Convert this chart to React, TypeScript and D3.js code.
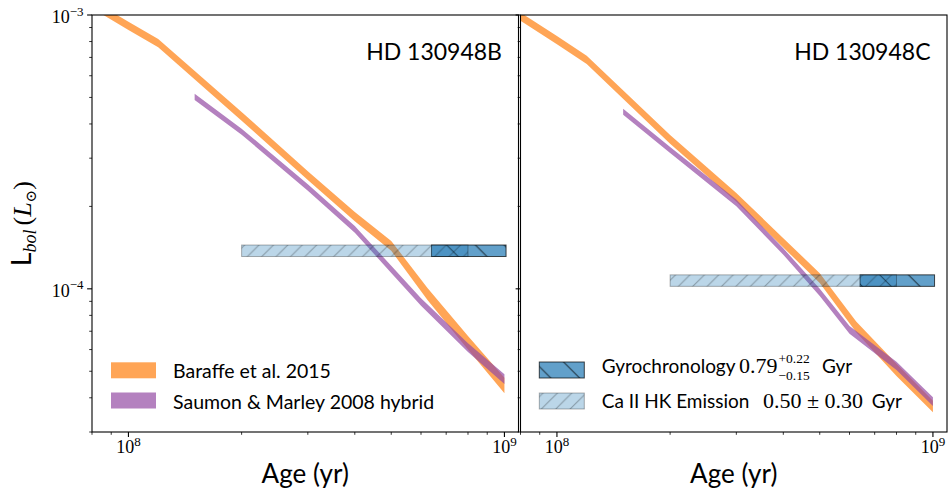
import React from 'react';
import * as d3 from 'd3';

// ---------------- data ----------------
const xDomain = [8e7, 1.09e9];
const yDomain = [3e-5, 1e-3];

const panelTitles = ['HD 130948B', 'HD 130948C'];

// Baraffe et al. 2015 tracks (age in Gyr, log10 Lbol/Lsun band edges)
const baraffeAgesGyr = [0.08, 0.1, 0.12, 0.2, 0.3, 0.4, 0.5, 0.625, 0.8, 1.0];
const baraffeB_logL_hi = [-2.945, -3.025, -3.088, -3.354, -3.571, -3.719, -3.825, -3.998, -4.172, -4.325];
const baraffeB_logL_lo = [-2.975, -3.055, -3.118, -3.386, -3.603, -3.753, -3.861, -4.042, -4.222, -4.381];
const baraffeC_logL_hi = [-2.991, -3.077, -3.149, -3.438, -3.65, -3.815, -3.943, -4.119, -4.274, -4.409];
const baraffeC_logL_lo = [-3.021, -3.107, -3.179, -3.47, -3.682, -3.849, -3.979, -4.159, -4.318, -4.451];

// Saumon & Marley 2008 hybrid tracks
const saumonAgesGyr = [0.15, 0.2, 0.3, 0.4, 0.5, 0.6, 0.8, 1.0];
const saumonB_logL_hi = [-3.288, -3.415, -3.618, -3.771, -3.916, -4.034, -4.199, -4.312];
const saumonB_logL_lo = [-3.31, -3.437, -3.642, -3.795, -3.942, -4.062, -4.231, -4.348];
const saumonC_logL_hi = [-3.342, -3.482, -3.674, -3.852, -4.0, -4.136, -4.266, -4.396];
const saumonC_logL_lo = [-3.364, -3.504, -3.698, -3.876, -4.026, -4.164, -4.296, -4.428];

// measured luminosities (log10 range) of each object
const objB_logL = [-3.882, -3.84];
const objC_logL = [-3.991, -3.949];

// age estimates (Gyr)
const gyroAgeGyr = [0.64, 1.01];
const caHKAgeGyr = [0.2, 0.8];

const seriesLabels = ['Baraffe et al. 2015', 'Saumon & Marley 2008 hybrid'];

// ---------------- styles ----------------
const ORANGE = '#ff7f0e';
const PURPLE = '#944ca4';
const BLUE = '#1f77b4';
const SANS = 'Lato, "Open Sans", sans-serif';
const SERIF = '"Liberation Serif", "DejaVu Serif", serif';

const Y0 = 15;
const Y1 = 432;

type Band = { ages: number[]; hi: number[]; lo: number[] };

function isMajor(v: number) {
  const l = Math.log10(v);
  return Math.abs(l - Math.round(l)) < 1e-9;
}

function Panel(props: {
  idx: number;
  range: [number, number];
  title: string;
  baraffe: Band;
  saumon: Band;
  obj: number[];
}) {
  const { idx, range, title, baraffe, saumon, obj } = props;
  const x = d3.scaleLog().domain(xDomain).range(range);
  const y = d3.scaleLog().domain(yDomain).range([Y1, Y0]);

  const mkArea = (b: Band) => {
    const pts = b.ages.map((a, i) => ({ a: a * 1e9, hi: 10 ** b.hi[i], lo: 10 ** b.lo[i] }));
    return d3
      .area<{ a: number; hi: number; lo: number }>()
      .x((d) => x(d.a))
      .y0((d) => y(d.lo))
      .y1((d) => y(d.hi))(pts) as string;
  };

  const clipId = `clip${idx}`;
  const yTop = y(10 ** obj[1]);
  const yBot = y(10 ** obj[0]);

  const xt = x.ticks();
  const yt = y.ticks();
  const cx = (range[0] + range[1]) / 2;

  return (
    <g>
      <defs>
        <clipPath id={clipId}>
          <rect x={range[0]} y={Y0} width={range[1] - range[0]} height={Y1 - Y0} />
        </clipPath>
      </defs>
      <g clipPath={`url(#${clipId})`}>
        <path d={mkArea(baraffe)} fill={ORANGE} fillOpacity={0.7} />
        <path d={mkArea(saumon)} fill={PURPLE} fillOpacity={0.7} />
        {/* gyrochronology bar */}
        {(() => {
          const x0 = x(gyroAgeGyr[0] * 1e9);
          const x1 = x(gyroAgeGyr[1] * 1e9);
          return (
            <g>
              <rect x={x0} y={yTop} width={x1 - x0} height={yBot - yTop} fill={BLUE} fillOpacity={0.7} />
              <rect x={x0} y={yTop} width={x1 - x0} height={yBot - yTop} fill="url(#hatchBack)" opacity={0.7} />
              <rect x={x0} y={yTop} width={x1 - x0} height={yBot - yTop} fill="none" stroke="#000" strokeOpacity={0.7} strokeWidth={1} />
            </g>
          );
        })()}
        {/* Ca II HK bar */}
        {(() => {
          const x0 = x(caHKAgeGyr[0] * 1e9);
          const x1 = x(caHKAgeGyr[1] * 1e9);
          return (
            <g>
              <rect x={x0} y={yTop} width={x1 - x0} height={yBot - yTop} fill={BLUE} fillOpacity={0.3} />
              <rect x={x0} y={yTop} width={x1 - x0} height={yBot - yTop} fill="url(#hatchFwd)" opacity={0.3} />
              <rect x={x0} y={yTop} width={x1 - x0} height={yBot - yTop} fill="none" stroke="#000" strokeOpacity={0.3} strokeWidth={1} />
            </g>
          );
        })()}
      </g>

      {/* spines */}
      <rect x={range[0]} y={Y0} width={range[1] - range[0]} height={Y1 - Y0} fill="none" stroke="#000" strokeWidth={1.1} />

      {/* x ticks */}
      {xt.map((t, i) => {
        const major = isMajor(t);
        const px = x(t);
        return (
          <g key={'xt' + i}>
            <line x1={px} x2={px} y1={Y1} y2={Y1 + (major ? 4.9 : 2.8)} stroke="#000" strokeWidth={major ? 1.1 : 0.8} />
            {major && (
              <text x={px} y={453} textAnchor="middle" fontFamily={SERIF} fontSize={18} fill="#000">
                10
                <tspan fontSize={13} dy={-7}>
                  {Math.round(Math.log10(t))}
                </tspan>
              </text>
            )}
          </g>
        );
      })}

      {/* y ticks */}
      {yt.map((t, i) => {
        const major = isMajor(t);
        const py = y(t);
        return (
          <g key={'yt' + i}>
            <line x1={range[0]} x2={range[0] - (major ? 4.9 : 2.8)} y1={py} y2={py} stroke="#000" strokeWidth={major ? 1.1 : 0.8} />
            {major && idx === 0 && (
              <text x={83.5} y={py + 8} textAnchor="end" fontFamily={SERIF} fontSize={18} fill="#000">
                10
                <tspan fontSize={13} dy={-7.5}>
                  {'\u2212' + Math.abs(Math.round(Math.log10(t)))}
                </tspan>
              </text>
            )}
          </g>
        );
      })}

      {/* title */}
      <text x={range[1] - 16.5} y={60} textAnchor="end" fontFamily={SANS} fontSize={23} fill="#000">
        {title}
      </text>

      {/* x label */}
      <text x={cx} y={483} textAnchor="middle" fontFamily={SANS} fontSize={26} fill="#000">
        Age (yr)
      </text>
    </g>
  );
}

export default function App() {
  const panels = [
    {
      range: [92, 518.5] as [number, number],
      baraffe: { ages: baraffeAgesGyr, hi: baraffeB_logL_hi, lo: baraffeB_logL_lo },
      saumon: { ages: saumonAgesGyr, hi: saumonB_logL_hi, lo: saumonB_logL_lo },
      obj: objB_logL,
    },
    {
      range: [520.5, 947] as [number, number],
      baraffe: { ages: baraffeAgesGyr, hi: baraffeC_logL_hi, lo: baraffeC_logL_lo },
      saumon: { ages: saumonAgesGyr, hi: saumonC_logL_hi, lo: saumonC_logL_lo },
      obj: objC_logL,
    },
  ];

  const fw = 14.4;
  const bw = 28.8;

  return (
    <svg
      width={949}
      height={497}
      viewBox="0 0 949 497"
      style={{ position: 'absolute', left: 0, top: 0, background: '#fff' }}
    >
      <defs>
        <pattern id="hatchFwd" patternUnits="userSpaceOnUse" width={fw} height={fw}>
          <path
            d={`M0,${fw} L${fw},0 M${-fw / 2},${fw / 2} L${fw / 2},${-fw / 2} M${fw / 2},${fw * 1.5} L${fw * 1.5},${fw / 2}`}
            stroke="#000"
            strokeWidth={1}
          />
        </pattern>
        <pattern id="hatchBack" patternUnits="userSpaceOnUse" width={bw} height={bw}>
          <path
            d={`M0,0 L${bw},${bw} M${-bw / 2},${bw / 2} L${bw / 2},${bw * 1.5} M${bw / 2},${-bw / 2} L${bw * 1.5},${bw / 2}`}
            stroke="#000"
            strokeWidth={1}
          />
        </pattern>
      </defs>
      <rect x={0} y={0} width={949} height={497} fill="#fff" />

      {panels.map((p, i) => (
        <Panel key={i} idx={i} range={p.range} title={panelTitles[i]} baraffe={p.baraffe} saumon={p.saumon} obj={p.obj} />
      ))}

      {/* y label */}
      <g transform="translate(31,223.5) rotate(-90)">
        <text x={0} y={0} textAnchor="middle" fill="#000" fontSize={26}>
          <tspan fontFamily={SANS}>L</tspan>
          <tspan fontFamily={SERIF} fontStyle="italic" fontSize={18} dy={5}>
            bol
          </tspan>
          <tspan fontFamily={SERIF} dy={-5} dx={4}>
            (
          </tspan>
          <tspan fontFamily={SERIF} fontStyle="italic">
            L
          </tspan>
          <tspan fontFamily={'"DejaVu Serif", serif'} fontSize={15} dy={5}>
            {'\u2299'}
          </tspan>
          <tspan fontFamily={SERIF} dy={-5}>
            )
          </tspan>
        </text>
      </g>

      {/* left legend */}
      <rect x={111} y={362.3} width={45} height={16} fill={ORANGE} fillOpacity={0.7} />
      <rect x={111} y={392.5} width={45} height={16} fill={PURPLE} fillOpacity={0.7} />
      <text x={173} y={377.5} fontFamily={SANS} fontSize={19.5} fill="#000">
        {seriesLabels[0]}
      </text>
      <text x={173} y={408.8} fontFamily={SANS} fontSize={19.5} fill="#000">
        {seriesLabels[1]}
      </text>

      {/* right legend */}
      <rect x={539.3} y={362} width={45} height={16} fill={BLUE} fillOpacity={0.7} />
      <rect x={539.3} y={362} width={45} height={16} fill="url(#hatchBack)" opacity={0.7} />
      <rect x={539.3} y={362} width={45} height={16} fill="none" stroke="#000" strokeOpacity={0.7} strokeWidth={1} />
      <rect x={539.3} y={393} width={45} height={16} fill={BLUE} fillOpacity={0.3} />
      <rect x={539.3} y={393} width={45} height={16} fill="url(#hatchFwd)" opacity={0.3} />
      <rect x={539.3} y={393} width={45} height={16} fill="none" stroke="#000" strokeOpacity={0.3} strokeWidth={1} />

      <text x={601.7} y={372.7} fontFamily={SANS} fontSize={19} fill="#000">
        Gyrochronology
      </text>
      <text x={739} y={372.7} fontFamily={SERIF} fontSize={22} fill="#000">
        0.79
      </text>
      <text x={778.5} y={363} fontFamily={SERIF} fontSize={13.5} fill="#000">
        +0.22
      </text>
      <text x={778.5} y={380} fontFamily={SERIF} fontSize={13.5} fill="#000">
        {'\u22120.15'}
      </text>
      <text x={822} y={372.7} fontFamily={SANS} fontSize={19} fill="#000">
        Gyr
      </text>

      <text x={601.7} y={408.3} fontFamily={SANS} fontSize={19} fill="#000">
        Ca II HK Emission
      </text>
      <text x={763} y={408.3} fontFamily={SERIF} fontSize={22} fill="#000">
        {'0.50 \u00b1 0.30'}
      </text>
      <text x={871.7} y={408.3} fontFamily={SANS} fontSize={19} fill="#000">
        Gyr
      </text>
    </svg>
  );
}
